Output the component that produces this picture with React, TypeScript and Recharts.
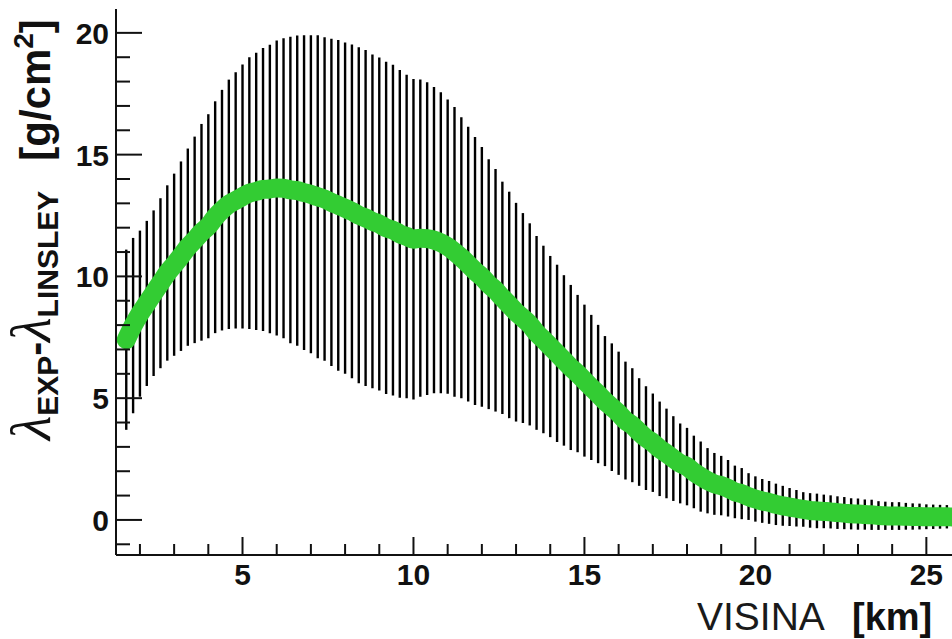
import React from 'react';
import { LineChart, Line, XAxis, YAxis, ErrorBar } from 'recharts';

// distance along the shower axis [km]
const DIST = [
  1.6, 1.8, 2.0, 2.2, 2.4, 2.6, 2.8, 3.0, 3.2, 3.4,
  3.6, 3.8, 4.0, 4.2, 4.4, 4.6, 4.8, 5.0, 5.2, 5.4,
  5.6, 5.8, 6.0, 6.2, 6.4, 6.6, 6.8, 7.0, 7.2, 7.4,
  7.6, 7.8, 8.0, 8.2, 8.4, 8.6, 8.8, 9.0, 9.2, 9.4,
  9.6, 9.8, 10.0, 10.2, 10.4, 10.6, 10.8, 11.0, 11.2, 11.4,
  11.6, 11.8, 12.0, 12.2, 12.4, 12.6, 12.8, 13.0, 13.2, 13.4,
  13.6, 13.8, 14.0, 14.2, 14.4, 14.6, 14.8, 15.0, 15.2, 15.4,
  15.6, 15.8, 16.0, 16.2, 16.4, 16.6, 16.8, 17.0, 17.2, 17.4,
  17.6, 17.8, 18.0, 18.2, 18.4, 18.6, 18.8, 19.0, 19.2, 19.4,
  19.6, 19.8, 20.0, 20.2, 20.4, 20.6, 20.8, 21.0, 21.2, 21.4,
  21.6, 21.8, 22.0, 22.2, 22.4, 22.6, 22.8, 23.0, 23.2, 23.4,
  23.6, 23.8, 24.0, 24.2, 24.4, 24.6, 24.8, 25.0, 25.2, 25.4,
  25.6, 25.8, 26.0,
];

// lambda_EXP - lambda_LINSLEY [g/cm2]
const DIFF = [
  7.40, 7.98, 8.47, 8.89, 9.31, 9.72, 10.14, 10.48, 10.83, 11.20,
  11.50, 11.81, 12.06, 12.43, 12.72, 12.96, 13.12, 13.28, 13.42, 13.49,
  13.57, 13.59, 13.63, 13.62, 13.55, 13.52, 13.44, 13.37, 13.27, 13.18,
  13.04, 12.92, 12.80, 12.67, 12.51, 12.40, 12.26, 12.15, 11.99, 11.90,
  11.75, 11.64, 11.53, 11.57, 11.55, 11.49, 11.38, 11.22, 11.01, 10.77,
  10.50, 10.22, 9.98, 9.68, 9.43, 9.12, 8.83, 8.53, 8.29, 8.03,
  7.68, 7.41, 7.12, 6.84, 6.55, 6.26, 6.01, 5.72, 5.44, 5.17,
  4.88, 4.63, 4.38, 4.08, 3.89, 3.61, 3.36, 3.17, 2.92, 2.73,
  2.52, 2.32, 2.19, 1.97, 1.78, 1.61, 1.48, 1.41, 1.30, 1.15,
  1.08, 0.96, 0.86, 0.78, 0.72, 0.64, 0.58, 0.53, 0.48, 0.43,
  0.39, 0.37, 0.35, 0.33, 0.30, 0.28, 0.25, 0.24, 0.22, 0.21,
  0.18, 0.17, 0.16, 0.16, 0.15, 0.14, 0.14, 0.13, 0.13, 0.13,
  0.13, 0.12, 0.12,
];

// symmetric error
const ERR = [
  3.70, 3.60, 3.41, 3.39, 3.40, 3.49, 3.60, 3.74, 3.89, 4.05,
  4.24, 4.45, 4.60, 4.76, 4.94, 5.12, 5.26, 5.42, 5.58, 5.69,
  5.81, 5.92, 6.06, 6.16, 6.29, 6.37, 6.46, 6.53, 6.63, 6.64,
  6.72, 6.79, 6.80, 6.85, 6.90, 6.90, 6.85, 6.84, 6.82, 6.79,
  6.73, 6.64, 6.58, 6.51, 6.42, 6.29, 6.18, 6.04, 5.95, 5.77,
  5.64, 5.50, 5.33, 5.13, 4.98, 4.77, 4.65, 4.49, 4.31, 4.15,
  3.98, 3.85, 3.72, 3.64, 3.50, 3.39, 3.23, 3.12, 2.98, 2.84,
  2.67, 2.62, 2.53, 2.42, 2.34, 2.21, 2.13, 2.02, 1.94, 1.84,
  1.74, 1.64, 1.59, 1.49, 1.44, 1.34, 1.27, 1.22, 1.16, 1.08,
  1.05, 0.96, 0.93, 0.90, 0.88, 0.85, 0.82, 0.78, 0.75, 0.71,
  0.71, 0.71, 0.69, 0.68, 0.67, 0.66, 0.64, 0.64, 0.62, 0.62,
  0.59, 0.58, 0.57, 0.57, 0.55, 0.54, 0.53, 0.51, 0.50, 0.49,
  0.48, 0.46, 0.45,
];

const X_TICKS = [2, 3, 4, 5, 6, 7, 8, 9, 10, 11, 12, 13, 14, 15, 16, 17, 18, 19, 20, 21, 22, 23, 24, 25];
const Y_TICKS = [-1, 0, 1, 2, 3, 4, 5, 6, 7, 8, 9, 10, 11, 12, 13, 14, 15, 16, 17, 18, 19, 20];
const MAJOR = [0, 5, 10, 15, 20, 25];

const X_DOMAIN = [1.3, 25.75];
const Y_DOMAIN = [-1.44, 20.98];

const data = DIST.map((d, i) => ({ dist: d, diff: DIFF[i], err: ERR[i] }));

const INK = '#111';
const LABEL_FONT = '"Liberation Sans", Arial, sans-serif';
const GREEK_FONT = '"Liberation Serif", serif';

const XTick = (props: any) => {
  const { x, y, payload } = props;
  const major = MAJOR.includes(payload.value);
  return (
    <g>
      <line x1={x} y1={y} x2={x} y2={y - (major ? 18 : 11)} stroke={INK} strokeWidth={2} />
      {major && (
        <text x={x} y={y + 30} textAnchor="middle" fontFamily={LABEL_FONT} fontWeight="bold" fontSize={30} fill={INK}>
          {payload.value}
        </text>
      )}
    </g>
  );
};

const YTick = (props: any) => {
  const { x, y, payload } = props;
  const major = MAJOR.includes(payload.value);
  return (
    <g>
      <line x1={x} y1={y} x2={x + (major ? 26 : 14)} y2={y} stroke={INK} strokeWidth={2} />
      {major && (
        <text x={x - 7} y={y + 11} textAnchor="end" fontFamily={LABEL_FONT} fontWeight="bold" fontSize={30} fill={INK}>
          {payload.value}
        </text>
      )}
    </g>
  );
};

export default function App() {
  return (
    <div style={{ position: 'absolute', left: 0, top: 0, width: 952, height: 639, background: '#fff', overflow: 'hidden' }}>
      <LineChart width={952} height={639} data={data} margin={{ top: 9, right: 0, left: 16, bottom: 34 }}>
        <XAxis
          xAxisId="top"
          orientation="top"
          type="number"
          domain={X_DOMAIN}
          allowDataOverflow
          height={0}
          tick={false}
          tickLine={false}
          axisLine={{ stroke: INK, strokeWidth: 2 }}
        />
        <XAxis
          dataKey="dist"
          type="number"
          domain={X_DOMAIN}
          allowDataOverflow
          ticks={X_TICKS}
          interval={0}
          tickSize={0}
          tickMargin={0}
          tickLine={false}
          axisLine={{ stroke: INK, strokeWidth: 2 }}
          tick={<XTick />}
          height={50}
        />
        <YAxis
          type="number"
          domain={Y_DOMAIN}
          allowDataOverflow
          ticks={Y_TICKS}
          interval={0}
          tickSize={0}
          tickMargin={0}
          tickLine={false}
          axisLine={{ stroke: INK, strokeWidth: 2 }}
          tick={<YTick />}
          width={100}
        />
        {/* error bars first so the thick green curve sits on top */}
        <Line dataKey="diff" stroke="none" dot={false} activeDot={false} isAnimationActive={false}>
          <ErrorBar dataKey="err" width={0} stroke="#000" strokeWidth={2.4} direction="y" isAnimationActive={false} />
        </Line>
        <Line
          dataKey="diff"
          type="monotone"
          stroke="#33cc33"
          strokeWidth={19}
          strokeLinecap="round"
          strokeLinejoin="round"
          dot={false}
          activeDot={false}
          isAnimationActive={false}
        />
      </LineChart>

      <svg width={952} height={639} style={{ position: 'absolute', left: 0, top: 0, pointerEvents: 'none' }}>
        <text transform="translate(50, 440) rotate(-90)" fontFamily={LABEL_FONT} fill={INK}>
          <tspan fontFamily={GREEK_FONT} fontStyle="italic" fontSize={56}>λ</tspan>
          <tspan fontWeight="bold" fontSize={30} dy={8}>EXP</tspan>
          <tspan fontWeight="bold" fontSize={42} dy={-8}>-</tspan>
          <tspan fontFamily={GREEK_FONT} fontStyle="italic" fontSize={56}>λ</tspan>
          <tspan fontWeight="bold" fontSize={30} dy={8}>LINSLEY</tspan>
          <tspan fontWeight="bold" fontSize={42} dy={-8} dx={30}>[g/cm</tspan>
          <tspan fontWeight="bold" fontSize={28} dy={-17}>2</tspan>
          <tspan fontWeight="bold" fontSize={42} dy={17}>]</tspan>
        </text>
        <text x={697} y={630} fontFamily={LABEL_FONT} fontSize={39} fill="#1a1a1a">VISINA</text>
        <text x={852} y={630} fontFamily={LABEL_FONT} fontWeight="bold" fontSize={38} fill={INK}>[km]</text>
      </svg>
    </div>
  );
}
